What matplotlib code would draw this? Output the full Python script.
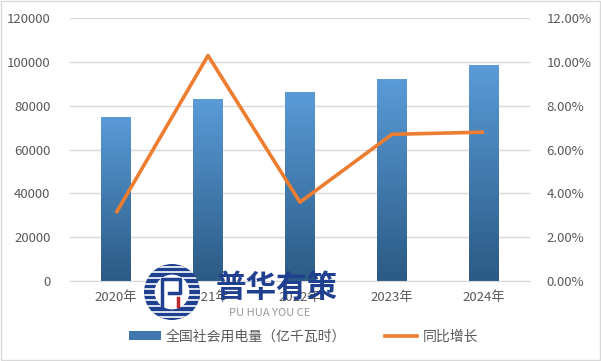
import numpy as np
import matplotlib
matplotlib.use("Agg")
import matplotlib.pyplot as plt
from matplotlib.colors import LinearSegmentedColormap
from matplotlib.patches import Rectangle, Circle, Patch
from matplotlib.lines import Line2D
from matplotlib.ticker import FuncFormatter

plt.rcParams['font.family'] = ['Noto Sans CJK SC', 'DejaVu Sans']

years = ['2020年', '2021年', '2022年', '2023年', '2024年']
consumption = [75110, 83128, 86372, 92241, 98521]
growth = [0.031, 0.103, 0.036, 0.067, 0.068]
bar_label = '全国社会用电量（亿千瓦时）'
line_label = '同比增长'

txt_color = '#595959'
grid_color = '#D9D9D9'
line_color = '#ED7D31'
top_c = '#5A9BD8'
bot_c = '#2B5A84'

fig = plt.figure(figsize=(6.01, 3.61), dpi=100)
ax = fig.add_axes([70/601, 1-281/361, 460/601, (281-18.3)/361])
ax2 = ax.twinx()

x = np.arange(len(years))
bars = ax.bar(x, consumption, width=0.32, color='none', zorder=2)
cmap = LinearSegmentedColormap.from_list('g', [bot_c, top_c])
grad = np.linspace(0, 1, 256).reshape(-1, 1)
for b in bars:
    x0, w, h = b.get_x(), b.get_width(), b.get_height()
    im = ax.imshow(grad, cmap=cmap, origin='lower', aspect='auto',
                   extent=[x0, x0 + w, 0, h], zorder=2)
    im.set_clip_path(b)

ax.set_xlim(-0.5, len(years) - 0.5)
ax.set_ylim(0, 120000)
ax.set_yticks(np.arange(0, 120001, 20000))
ax.yaxis.set_major_formatter(FuncFormatter(lambda v, p: f'{int(v)}'))
ax.grid(axis='y', color=grid_color, lw=1, zorder=0)
ax.set_axisbelow(True)
ax.set_xticks(x)
ax.set_xticklabels(years)

ax2.plot(x, growth, color=line_color, lw=2.6, zorder=3, solid_capstyle='butt')
ax2.set_ylim(0, 0.12)
ax2.set_yticks(np.arange(0, 0.1201, 0.02))
ax2.yaxis.set_major_formatter(FuncFormatter(lambda v, p: f'{v*100:.2f}%'))

for a in (ax, ax2):
    for s in a.spines.values():
        s.set_visible(False)
    a.tick_params(length=0, colors=txt_color, labelsize=9.5)
ax.tick_params(axis='y', pad=14)
ax2.tick_params(axis='y', pad=12)
ax.tick_params(axis='x', pad=7)
ax.spines['bottom'].set_visible(True)
ax.spines['bottom'].set_color(grid_color)

handles = [Patch(facecolor='#3F77AE', edgecolor='none'),
           Line2D([0], [0], color=line_color, lw=2.6)]
fig.legend(handles, [bar_label, line_label], loc='center', ncol=2,
           bbox_to_anchor=(0.505, 0.068), frameon=False, fontsize=10,
           labelcolor=txt_color, handlelength=2.3, handleheight=0.55,
           columnspacing=2.8, handletextpad=0.4)

# watermark
cx, cy, r = 172/601, 1-292/361, 28
circ_ax = fig.add_axes([cx - r/601, cy - r/361, 2*r/601, 2*r/361])
circ_ax.set_xlim(-1, 1); circ_ax.set_ylim(-1, 1); circ_ax.axis('off')
c = Circle((0, 0), 1, facecolor='#1F3F8F', edgecolor='none')
circ_ax.add_patch(c)
for yy in np.linspace(-0.9, 0.9, 10):
    st = circ_ax.axhline(yy, color='white', lw=1.2)
    st.set_clip_path(c)
inner = Circle((0, 0), 0.62, facecolor='white', edgecolor='none')
circ_ax.add_patch(inner)
circ_ax.plot([-0.35, -0.35, 0.3, 0.3, -0.1], [-0.5, 0.45, 0.45, -0.05, -0.05], color='#1F3F8F', lw=2.5)
circ_ax.plot([0.2, 0.2], [-0.5, -0.2], color='#C0282D', lw=2.5)
fig.text(277/601, 1-288/361, '普华有策', fontsize=22, fontweight='bold',
         color='#1F3F8F', ha='center', va='center')
fig.text(270/601, 1-313/361, 'PU HUA YOU CE', fontsize=8, color='#9A9A9A',
         ha='center', va='center')

fig.add_artist(Rectangle((0.001, 0.002), 0.997, 0.995, transform=fig.transFigure,
                         fill=False, edgecolor='#D9D9D9', lw=1))

fig.savefig('out.png', dpi=100)
